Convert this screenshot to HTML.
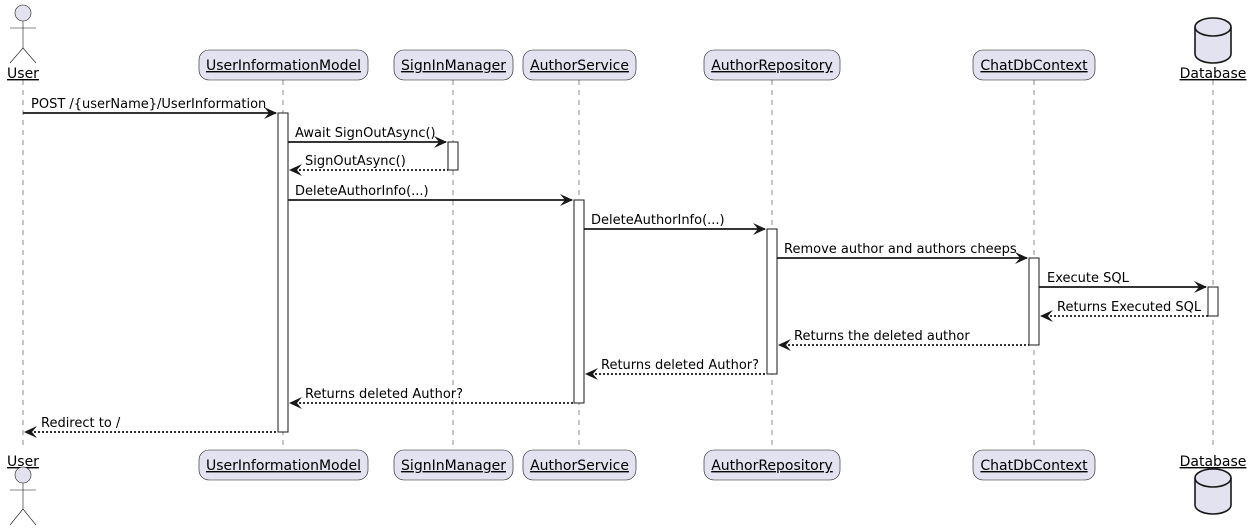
<!DOCTYPE html>
<html><head><meta charset="utf-8"><style>
html,body{margin:0;padding:0;background:#fff;}
svg{display:block;}
text{font-family:"DejaVu Sans","Liberation Sans",sans-serif;font-size:13px;fill:#000;}
.pt{text-decoration:underline;font-size:14px;}
.box{fill:#E2E2F0;stroke:#181818;stroke-width:0.6;}
.ll{stroke:#444;stroke-width:0.6;stroke-dasharray:5,5;}
.act{fill:#fff;stroke:#181818;stroke-width:1;}
.m{stroke:#181818;stroke-width:1.8;}
.r{stroke:#181818;stroke-width:1.8;stroke-dasharray:2,2;}
.ah{fill:#181818;}
.actor{fill:#E2E2F0;stroke:#181818;stroke-width:0.6;}
.al{stroke:#181818;stroke-width:0.6;fill:none;}
.db{fill:#E2E2F0;stroke:#181818;stroke-width:1.6;}
</style></head><body>
<svg width="1250" height="530" viewBox="0 0 1250 530">
<line class="ll" x1="23" y1="80" x2="23" y2="450"/>
<line class="ll" x1="283" y1="80" x2="283" y2="450"/>
<line class="ll" x1="453" y1="80" x2="453" y2="450"/>
<line class="ll" x1="579" y1="80" x2="579" y2="450"/>
<line class="ll" x1="772" y1="80" x2="772" y2="450"/>
<line class="ll" x1="1034" y1="80" x2="1034" y2="450"/>
<line class="ll" x1="1213" y1="80" x2="1213" y2="450"/>

<circle class="actor" cx="23" cy="13" r="8"/>
<line class="al" x1="23" y1="21" x2="23" y2="48"/>
<line class="al" x1="10" y1="28" x2="36" y2="28"/>
<polyline class="al" points="10,63 23,48 36,63"/>
<text class="pt" x="23" y="78" text-anchor="middle">User</text>
<text class="pt" x="23" y="466" text-anchor="middle">User</text>
<circle class="actor" cx="23" cy="475" r="8"/>
<line class="al" x1="23" y1="483" x2="23" y2="509"/>
<line class="al" x1="10" y1="490" x2="36" y2="490"/>
<polyline class="al" points="10,525 23,509 36,525"/>

<rect class="box" x="199" y="50" width="169" height="30" rx="10"/>
<text class="pt" x="283.5" y="70" text-anchor="middle">UserInformationModel</text>
<rect class="box" x="394" y="50" width="119" height="30" rx="10"/>
<text class="pt" x="453.5" y="70" text-anchor="middle">SignInManager</text>
<rect class="box" x="523" y="50" width="113" height="30" rx="10"/>
<text class="pt" x="579.5" y="70" text-anchor="middle">AuthorService</text>
<rect class="box" x="704" y="50" width="136" height="30" rx="10"/>
<text class="pt" x="772" y="70" text-anchor="middle">AuthorRepository</text>
<rect class="box" x="973" y="50" width="122" height="30" rx="10"/>
<text class="pt" x="1034" y="70" text-anchor="middle">ChatDbContext</text>
<rect class="box" x="199" y="450" width="169" height="30" rx="10"/>
<text class="pt" x="283.5" y="470" text-anchor="middle">UserInformationModel</text>
<rect class="box" x="394" y="450" width="119" height="30" rx="10"/>
<text class="pt" x="453.5" y="470" text-anchor="middle">SignInManager</text>
<rect class="box" x="523" y="450" width="113" height="30" rx="10"/>
<text class="pt" x="579.5" y="470" text-anchor="middle">AuthorService</text>
<rect class="box" x="704" y="450" width="136" height="30" rx="10"/>
<text class="pt" x="772" y="470" text-anchor="middle">AuthorRepository</text>
<rect class="box" x="973" y="450" width="122" height="30" rx="10"/>
<text class="pt" x="1034" y="470" text-anchor="middle">ChatDbContext</text>

<path class="db" d="M1195,27 A18,9 0 0 1 1231,27 L1231,54 A18,9 0 0 1 1195,54 Z"/>
<path class="db" style="fill:none" d="M1195,27 A18,9 0 0 0 1231,27"/>
<text class="pt" x="1213" y="78" text-anchor="middle">Database</text>
<text class="pt" x="1213" y="466" text-anchor="middle">Database</text>
<path class="db" d="M1195,478 A18,9 0 0 1 1231,478 L1231,505 A18,9 0 0 1 1195,505 Z"/>
<path class="db" style="fill:none" d="M1195,478 A18,9 0 0 0 1231,478"/>

<rect class="act" x="278" y="113" width="10" height="319"/>
<rect class="act" x="448" y="142" width="10" height="28"/>
<rect class="act" x="574" y="200" width="10" height="203"/>
<rect class="act" x="767" y="229" width="10" height="145"/>
<rect class="act" x="1029" y="258" width="10" height="87"/>
<rect class="act" x="1208" y="287" width="10" height="29"/>

<line class="m" x1="23" y1="113" x2="276" y2="113"/>
<polygon class="ah" points="277,113 264,107 269,113 264,119"/>
<text x="31" y="108">POST /{userName}/UserInformation</text>

<line class="m" x1="288" y1="142" x2="446" y2="142"/>
<polygon class="ah" points="447,142 434,136 439,142 434,148"/>
<text x="295" y="137">Await SignOutAsync()</text>

<line class="r" x1="291" y1="170" x2="448" y2="170"/>
<polygon class="ah" points="289,170 302,164 297,170 302,176"/>
<text x="305" y="165">SignOutAsync()</text>

<line class="m" x1="288" y1="200" x2="572" y2="200"/>
<polygon class="ah" points="573,200 560,194 565,200 560,206"/>
<text x="295" y="195">DeleteAuthorInfo(...)</text>

<line class="m" x1="584" y1="229" x2="765" y2="229"/>
<polygon class="ah" points="766,229 753,223 758,229 753,235"/>
<text x="591" y="224">DeleteAuthorInfo(...)</text>

<line class="m" x1="777" y1="258" x2="1027" y2="258"/>
<polygon class="ah" points="1028,258 1015,252 1020,258 1015,264"/>
<text x="784" y="253">Remove author and authors cheeps</text>

<line class="m" x1="1039" y1="287" x2="1206" y2="287"/>
<polygon class="ah" points="1207,287 1194,281 1199,287 1194,293"/>
<text x="1047" y="282">Execute SQL</text>

<line class="r" x1="1042" y1="316" x2="1208" y2="316"/>
<polygon class="ah" points="1040,316 1053,310 1048,316 1053,322"/>
<text x="1057" y="311">Returns Executed SQL</text>

<line class="r" x1="780" y1="345" x2="1029" y2="345"/>
<polygon class="ah" points="778,345 791,339 786,345 791,351"/>
<text x="794" y="340">Returns the deleted author</text>

<line class="r" x1="587" y1="374" x2="767" y2="374"/>
<polygon class="ah" points="585,374 598,368 593,374 598,380"/>
<text x="601" y="369">Returns deleted Author?</text>

<line class="r" x1="291" y1="403" x2="574" y2="403"/>
<polygon class="ah" points="289,403 302,397 297,403 302,409"/>
<text x="305" y="398">Returns deleted Author?</text>

<line class="r" x1="26" y1="432" x2="278" y2="432"/>
<polygon class="ah" points="24,432 37,426 32,432 37,438"/>
<text x="41" y="427">Redirect to /</text>
</svg>
</body></html>
